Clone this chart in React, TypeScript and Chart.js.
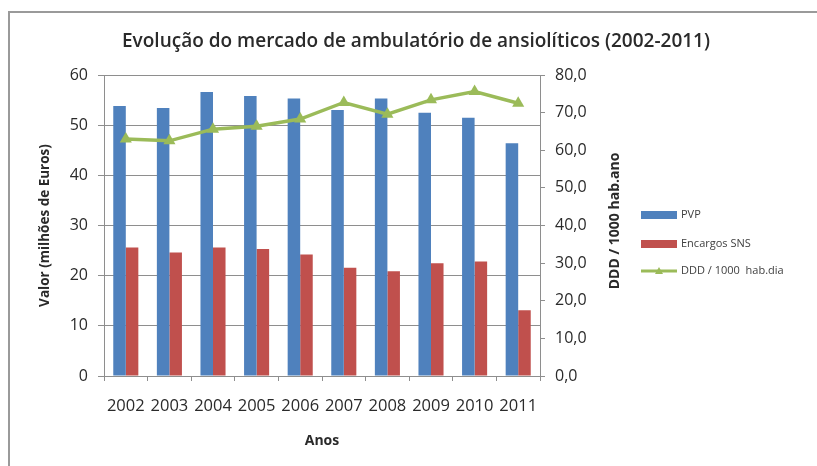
import React, { useEffect, useRef } from "react";
import { Chart, registerables } from "chart.js";

Chart.register(...registerables);

const years = ["2002", "2003", "2004", "2005", "2006", "2007", "2008", "2009", "2010", "2011"];
const pvp = [53.8, 53.4, 56.6, 55.8, 55.3, 53.0, 55.3, 52.5, 51.5, 46.4];
const encargosSNS = [25.6, 24.6, 25.6, 25.3, 24.2, 21.6, 20.9, 22.5, 22.8, 13.1];
const dddPer1000 = [63.0, 62.5, 65.6, 66.4, 68.3, 72.7, 69.6, 73.4, 75.6, 72.5];
const leftTicks = [0, 10, 20, 30, 40, 50, 60];
const rightTicks = [0, 10, 20, 30, 40, 50, 60, 70, 80];

const chartTitle = "Evolução do mercado de ambulatório de ansiolíticos (2002-2011)";
const leftAxisTitle = "Valor (milhões de Euros)";
const rightAxisTitle = "DDD / 1000 hab.ano";
const xAxisTitle = "Anos";
const seriesLabels = ["PVP", "Encargos SNS", "DDD / 1000  hab.dia"];

const BLUE = "#4F81BD";
const RED = "#C0504D";
const GREEN = "#9BBB59";
const GRID = "#8e8e8e";
const TEXT = "#2a2a2a";
const FONT = "'Open Sans', 'Noto Sans', sans-serif";

const extrasPlugin = {
  id: "extras",
  afterDraw(chart: any) {
    const ctx = chart.ctx;
    const area = chart.chartArea;

    // chart title
    ctx.save();
    ctx.font = `600 19px ${FONT}`;
    ctx.fillStyle = TEXT;
    ctx.textAlign = "center";
    ctx.textBaseline = "middle";
    ctx.fillText(chartTitle, 416, 42);
    ctx.restore();

    // right axis title (reads bottom to top)
    ctx.save();
    ctx.translate(615, 221);
    ctx.rotate(-Math.PI / 2);
    ctx.font = `bold 14px ${FONT}`;
    ctx.fillStyle = TEXT;
    ctx.textAlign = "center";
    ctx.textBaseline = "middle";
    ctx.fillText(rightAxisTitle, 0, 0);
    ctx.restore();

    // legend
    const items = chart.data.datasets.map((d: any, i: number) => ({
      label: d.label,
      color: d.borderColor,
      type: d.type,
      y: [215, 244, 271][i],
    }));
    ctx.save();
    ctx.font = `11px ${FONT}`;
    ctx.textBaseline = "middle";
    ctx.textAlign = "left";
    for (const it of items) {
      if (it.type === "line") {
        ctx.strokeStyle = it.color;
        ctx.lineWidth = 3;
        ctx.beginPath();
        ctx.moveTo(641, it.y);
        ctx.lineTo(677, it.y);
        ctx.stroke();
        ctx.fillStyle = it.color;
        ctx.beginPath();
        ctx.moveTo(659, it.y - 4);
        ctx.lineTo(663, it.y + 3);
        ctx.lineTo(655, it.y + 3);
        ctx.closePath();
        ctx.fill();
      } else {
        ctx.fillStyle = it.color;
        ctx.fillRect(641, it.y - 4, 36, 8);
      }
      ctx.fillStyle = "#404040";
      ctx.fillText(it.label, 681, it.y);
    }
    ctx.restore();
    void area;
  },
};

export default function App() {
  const ref = useRef<HTMLCanvasElement | null>(null);

  useEffect(() => {
    if (!ref.current) return;
    const chart = new Chart(ref.current, {
      type: "bar",
      data: {
        labels: years,
        datasets: [
          {
            type: "bar",
            label: seriesLabels[0],
            data: pvp,
            backgroundColor: BLUE,
            borderColor: BLUE,
            yAxisID: "y",
            order: 2,
            categoryPercentage: 0.575,
            barPercentage: 1.0,
          },
          {
            type: "bar",
            label: seriesLabels[1],
            data: encargosSNS,
            backgroundColor: RED,
            borderColor: RED,
            yAxisID: "y",
            order: 2,
            categoryPercentage: 0.575,
            barPercentage: 1.0,
          },
          {
            type: "line",
            label: seriesLabels[2],
            data: dddPer1000,
            borderColor: GREEN,
            backgroundColor: GREEN,
            borderWidth: 3.5,
            pointStyle: "triangle",
            pointRadius: 7,
            pointBorderWidth: 0,
            yAxisID: "y1",
            order: 0,
            tension: 0,
          } as any,
        ],
      },
      options: {
        animation: false,
        responsive: false,
        maintainAspectRatio: false,
        layout: { padding: { left: 0, right: 197, top: 75, bottom: 0 } },
        plugins: {
          legend: { display: false },
          tooltip: { enabled: false },
          title: { display: false },
        },
        scales: {
          x: {
            grid: {
              display: true,
              drawOnChartArea: false,
              drawTicks: true,
              tickLength: 5,
              color: GRID,
            },
            border: { display: true, color: GRID },
            ticks: {
              color: TEXT,
              font: { family: FONT, size: 16.5, lineHeight: 1.2 },
              padding: 15,
              maxRotation: 0,
              autoSkip: false,
            },
            title: {
              display: true,
              text: xAxisTitle,
              color: TEXT,
              font: { family: FONT, size: 14, weight: "bold" as any, lineHeight: 1.2 },
              padding: { top: 0, bottom: 17 },
            },
            afterFit(s: any) {
              s.height = 90;
            },
          },
          y: {
            position: "left",
            min: 0,
            max: 60,
            afterBuildTicks(s: any) {
              s.ticks = leftTicks.map((v) => ({ value: v }));
            },
            grid: {
              color: GRID,
              lineWidth: 1,
              tickLength: 6,
              drawTicks: true,
            },
            border: { display: true, color: GRID },
            ticks: {
              color: TEXT,
              font: { family: FONT, size: 16 },
              padding: 10,
            },
            title: {
              display: true,
              text: leftAxisTitle,
              color: TEXT,
              font: { family: FONT, size: 13.5, weight: "bold" as any, lineHeight: 1.2 },
              padding: { top: 37, bottom: 0 },
            },
            afterFit(s: any) {
              s.width = 104;
            },
          },
          y1: {
            position: "right",
            min: 0,
            max: 80,
            afterBuildTicks(s: any) {
              s.ticks = rightTicks.map((v) => ({ value: v }));
            },
            grid: {
              drawOnChartArea: false,
              color: GRID,
              tickLength: 5,
              drawTicks: true,
            },
            border: { display: true, color: GRID },
            ticks: {
              color: TEXT,
              font: { family: FONT, size: 16 },
              padding: 10,
              callback: (v: any) => Number(v).toFixed(1).replace(".", ","),
            },
            afterFit(s: any) {
              s.width = 80;
            },
          },
        },
      },
      plugins: [extrasPlugin],
    });
    return () => chart.destroy();
  }, []);

  return (
    <div style={{ position: "absolute", left: 0, top: 0, width: 817, height: 466, background: "#fff", overflow: "hidden" }}>
      <div
        style={{
          position: "absolute",
          left: 8,
          top: 11,
          width: 830,
          height: 480,
          border: "2px solid #9a9a9a",
          boxSizing: "border-box",
        }}
      />
      <canvas ref={ref} width={817} height={466} style={{ position: "absolute", left: 0, top: 0 }} />
    </div>
  );
}
